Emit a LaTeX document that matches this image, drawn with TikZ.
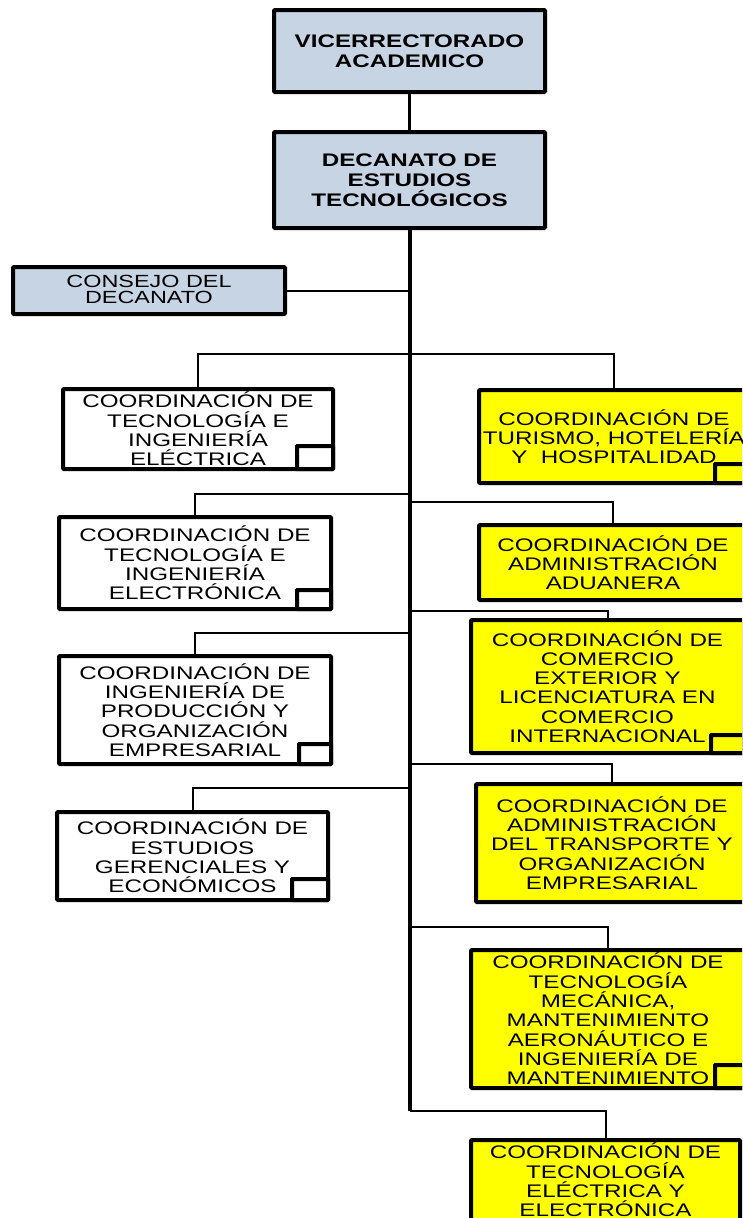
\documentclass[tikz,border=0pt]{standalone}
\usepackage{fontspec}
\setmainfont[FakeStretch=1.33]{Liberation Sans}
\definecolor{boxblue}{RGB}{198,212,228}
\definecolor{boxyellow}{RGB}{255,255,0}
\tikzset{
  box/.style={draw, line width=4pt, rectangle, rounded corners=1pt, inner sep=0pt, outer sep=0pt,
    align=center, font=\fontsize{18.2pt}{19.3pt}\selectfont},
  headbox/.style={box, fill=boxblue, font=\bfseries\fontsize{18.2pt}{19.8pt}\selectfont},
  councilbox/.style={box, fill=boxblue, font=\fontsize{17.6pt}{16pt}\selectfont},
  whitebox/.style={box, fill=white},
  yellowbox/.style={box, fill=boxyellow},
  sqr/.style={draw, line width=4pt, rounded corners=0.5pt},
  conn/.style={draw, line width=2pt},
  trunk/.style={draw, line width=4pt},
  link/.style={draw, line width=3pt}
}
\newcommand{\cornersq}[4]{\draw[sqr, fill=#4] ([xshift=-#2pt]#1.south east) rectangle ([yshift=#3pt]#1.south east);}
\begin{document}
\begin{tikzpicture}[x=1pt, y=-1pt]
\useasboundingbox (0,0) rectangle (742,1218);
\clip (0,0) rectangle (742,1218);
% top boxes
\node[headbox, minimum width=271pt, minimum height=82pt] (VA) at (409.5,51) {VICERRECTORADO\\ACADEMICO};
\node[headbox, minimum width=271pt, minimum height=96pt] (DET) at (409.5,180) {DECANATO DE\\ESTUDIOS\\TECNOLÓGICOS};
\node[councilbox, minimum width=272pt, minimum height=47pt] (CON) at (149,290.5) {CONSEJO DEL\\DECANATO\rule[-3pt]{0pt}{0pt}};
% left boxes
\node[whitebox, minimum width=270pt, minimum height=80pt] (L1) at (198,429) {COORDINACIÓN DE\\TECNOLOGÍA E\\INGENIERÍA\\ELÉCTRICA};
\node[whitebox, minimum width=272pt, minimum height=92pt] (L2) at (195,563) {COORDINACIÓN DE\\TECNOLOGÍA E\\INGENIERÍA\\ELECTRÓNICA};
\node[whitebox, minimum width=272pt, minimum height=108pt] (L3) at (195,710) {COORDINACIÓN DE\\INGENIERÍA DE\\PRODUCCIÓN Y\\ORGANIZACIÓN\\EMPRESARIAL};
\node[whitebox, minimum width=271pt, minimum height=88pt] (L4) at (192.5,856) {COORDINACIÓN DE\\ESTUDIOS\\GERENCIALES Y\\ECONÓMICOS};
% right boxes
\node[yellowbox, minimum width=270pt, minimum height=93pt] (R1) at (614,436.5) {COORDINACIÓN DE\\TURISMO, HOTELERÍA\\Y\ \ HOSPITALIDAD};
\node[yellowbox, minimum width=268pt, minimum height=75pt] (R2) at (613,562.5) {COORDINACIÓN DE\\ADMINISTRACIÓN\\ADUANERA};
\node[yellowbox, minimum width=273pt, minimum height=133pt] (R3) at (607.5,686.5) {COORDINACIÓN DE\\COMERCIO\\EXTERIOR Y\\LICENCIATURA EN\\COMERCIO\\INTERNACIONAL};
\node[yellowbox, minimum width=272pt, minimum height=118pt] (R4) at (612,843) {COORDINACIÓN DE\\ADMINISTRACIÓN\\DEL TRANSPORTE Y\\ORGANIZACIÓN\\EMPRESARIAL};
\node[yellowbox, minimum width=274pt, minimum height=138pt] (R5) at (608,1019) {COORDINACIÓN DE\\TECNOLOGÍA\\MECÁNICA,\\MANTENIMIENTO\\AERONÁUTICO E\\INGENIERÍA DE\\MANTENIMIENTO};
\node[yellowbox, minimum width=269pt, minimum height=80pt] (R6) at (605.5,1180) {COORDINACIÓN DE\\TECNOLOGÍA\\ELÉCTRICA Y\\ELECTRÓNICA};
% corner squares
\cornersq{L1}{36}{23}{white}
\cornersq{L2}{34}{19}{white}
\cornersq{L3}{32}{20}{white}
\cornersq{L4}{36}{21}{white}
\cornersq{R1}{34}{19}{boxyellow}
\cornersq{R3}{33}{18}{boxyellow}
\cornersq{R5}{30}{23}{boxyellow}
% trunk and junctions
\coordinate (tend) at (DET.south |- 0,1111);
\coordinate (jA) at (DET.south |- 0,354);
\coordinate (jR2) at (DET.south |- 0,502);
\coordinate (jL2) at (DET.south |- 0,494);
\coordinate (jR3) at (DET.south |- 0,611);
\coordinate (jL3) at (DET.south |- 0,633);
\coordinate (jR4) at (DET.south |- 0,764);
\coordinate (jL4) at (DET.south |- 0,788);
\coordinate (jR5) at (DET.south |- 0,927);
\draw[link] (VA.south) -- (DET.north);
\draw[conn] (CON.east) -- (CON.east -| DET.south);
\draw[conn] (jA) -| (L1.north);
\draw[conn] (jA) -| (R1.north);
\draw[conn] (jL2) -| (L2.north);
\draw[conn] (jR2) -| (R2.north);
\draw[conn] (jR3) -| (R3.north);
\draw[conn] (jL3) -| (L3.north);
\draw[conn] (jR4) -| (R4.north);
\draw[conn] (jL4) -| (L4.north);
\draw[conn] (jR5) -| (R5.north);
\draw[conn] (tend) -| (R6.north);
\draw[trunk] (DET.south) -- (tend);
\end{tikzpicture}
\end{document}
